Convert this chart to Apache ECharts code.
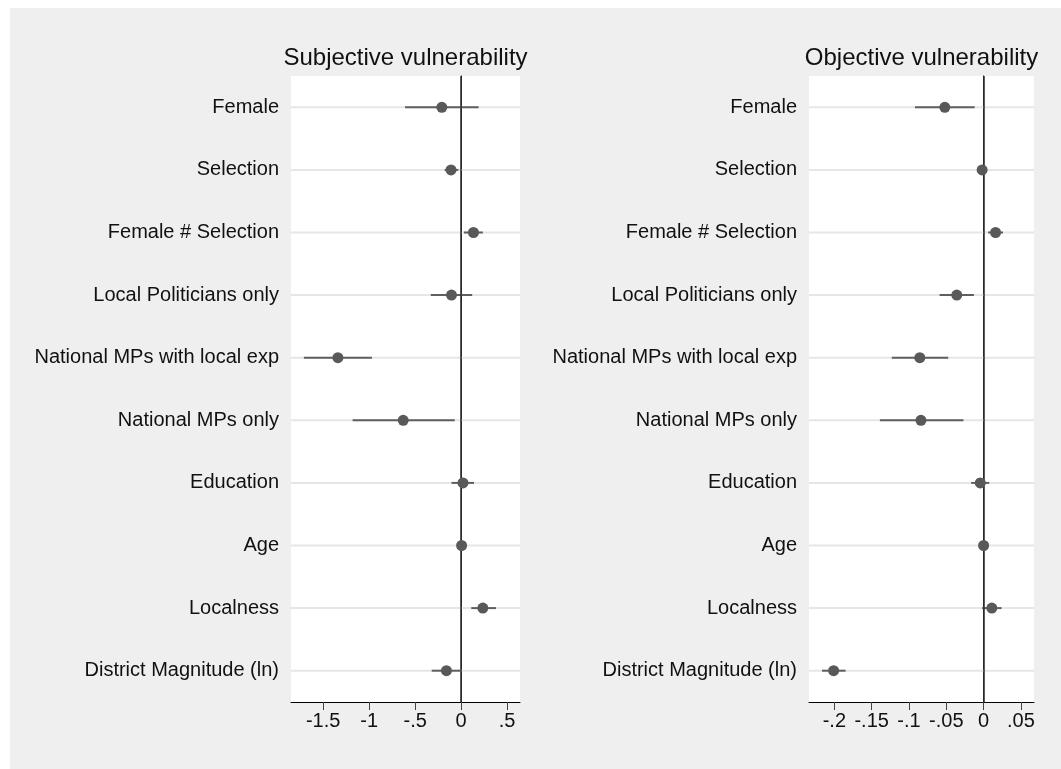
<!DOCTYPE html>
<html>
<head>
<meta charset="utf-8">
<script src="https://cdn.jsdelivr.net/npm/echarts@6/dist/echarts.min.js"></script>
<style>
html,body{margin:0;padding:0;background:#ffffff;}
#c{position:absolute;left:10px;top:8px;width:1051px;height:761px;background:#efefef;}
</style>
</head>
<body>
<div id="c"></div>
<script>
const categories = ["Female","Selection","Female # Selection","Local Politicians only","National MPs with local exp","National MPs only","Education","Age","Localness","District Magnitude (ln)"];
const panelTitles = ["Subjective vulnerability","Objective vulnerability"];

const subjCoef = [-0.21,-0.11,0.134,-0.105,-1.34,-0.63,0.02,0.005,0.236,-0.16];
const subjLo   = [-0.61,-0.18,0.03,-0.33,-1.71,-1.18,-0.105,-0.01,0.11,-0.32];
const subjHi   = [0.19,-0.03,0.236,0.12,-0.97,-0.07,0.14,0.02,0.38,-0.01];

const objCoef = [-0.052,-0.002,0.016,-0.036,-0.0855,-0.084,-0.0045,0.0,0.011,-0.201];
const objLo   = [-0.092,-0.005,0.006,-0.059,-0.123,-0.139,-0.0167,-0.001,-0.002,-0.2166];
const objHi   = [-0.012,0.001,0.026,-0.013,-0.0475,-0.027,0.0075,0.001,0.024,-0.185];

const subjTicks = [-1.5,-1,-0.5,0,0.5];
const objTicks = [-0.2,-0.15,-0.1,-0.05,0,0.05];

function fmt(v){
  let s = String(Math.round(v*1000)/1000);
  s = s.replace(/^(-?)0\./,'$1.');
  return s;
}

const chart = echarts.init(document.getElementById('c'));
const font = "'Liberation Sans', Arial, sans-serif";
const grids = [
  {left:281, right:541, top:68, bottom:67},
  {left:799, right:27, top:68, bottom:67}
];
const ranges = [[-1.85,0.64],[-0.234,0.0675]];
const tickSets = [subjTicks, objTicks];
const coefs = [subjCoef, objCoef], los = [subjLo, objLo], his = [subjHi, objHi];

const xAxes = [], yAxes = [], series = [], titles = [];
for (let p=0;p<2;p++){
  xAxes.push({
    gridIndex:p, type:'value', min:ranges[p][0], max:ranges[p][1],
    axisLine:{show:true, onZero:false, lineStyle:{color:'#000', width:1}},
    axisTick:{show:true, length:8, customValues:tickSets[p], lineStyle:{color:'#444', width:1}},
    axisLabel:{customValues:tickSets[p], formatter:fmt, fontFamily:font, fontSize:20, color:'#111', margin:9},
    splitLine:{show:false}
  });
  yAxes.push({
    gridIndex:p, type:'category', data:categories, inverse:true, boundaryGap:true,
    axisLine:{show:true, lineStyle:{color:'#000', width:1}},
    axisTick:{show:true, alignWithLabel:true, length:9, lineStyle:{color:'#555', width:1}},
    axisLabel:{fontFamily:font, fontSize:20, color:'#111', margin:12, interval:0},
    splitLine:{show:false}
  });
  const g = grids[p];
  const w = 1051 - g.left - g.right;
  titles.push({
    text:panelTitles[p], left:g.left + w/2 - 5, top:33, textAlign:'center',
    textStyle:{fontFamily:"'Liberation Sans Narrow', 'Arial Narrow', 'Liberation Sans', sans-serif", fontSize:24, fontWeight:'normal', color:'#111'}
  });
  // horizontal grid lines at category centres
  series.push({
    type:'custom', xAxisIndex:p, yAxisIndex:p, silent:true, z:1,
    data: categories.map((c,i)=>[0,i]),
    encode:{x:0, y:1},
    renderItem:function(params, api){
      const y = api.coord([0, api.value(1)])[1];
      const cs = params.coordSys;
      return {type:'line', shape:{x1:cs.x, y1:y, x2:cs.x+cs.width, y2:y},
        style:{stroke:'#e6e6e6', lineWidth:2}};
    }
  });
  // zero line
  series.push({
    type:'line', xAxisIndex:p, yAxisIndex:p, data:[], z:3,
    markLine:{silent:true, symbol:'none', label:{show:false},
      lineStyle:{color:'#333', width:1.6, type:'solid'},
      data:[{xAxis:0}]}
  });
  // confidence intervals
  series.push({
    type:'custom', xAxisIndex:p, yAxisIndex:p, silent:true, z:4,
    data: categories.map((c,i)=>[los[p][i], his[p][i], i]),
    encode:{x:[0,1], y:2},
    renderItem:function(params, api){
      const a = api.coord([api.value(0), api.value(2)]);
      const b = api.coord([api.value(1), api.value(2)]);
      return {type:'line', shape:{x1:a[0], y1:a[1], x2:b[0], y2:b[1]},
        style:{stroke:'#5f5f5f', lineWidth:2}};
    }
  });
  // point estimates
  series.push({
    type:'scatter', xAxisIndex:p, yAxisIndex:p, z:5, symbol:'circle', symbolSize:11,
    itemStyle:{color:'#595959', opacity:1},
    data: categories.map((c,i)=>[coefs[p][i], i])
  });
}

chart.setOption({
  animation:false,
  backgroundColor:'#efefef',
  title:titles,
  grid:grids.map(g=>Object.assign({backgroundColor:'#ffffff', show:true, borderWidth:0}, g)),
  xAxis:xAxes,
  yAxis:yAxes,
  series:series
});
</script>
</body>
</html>
